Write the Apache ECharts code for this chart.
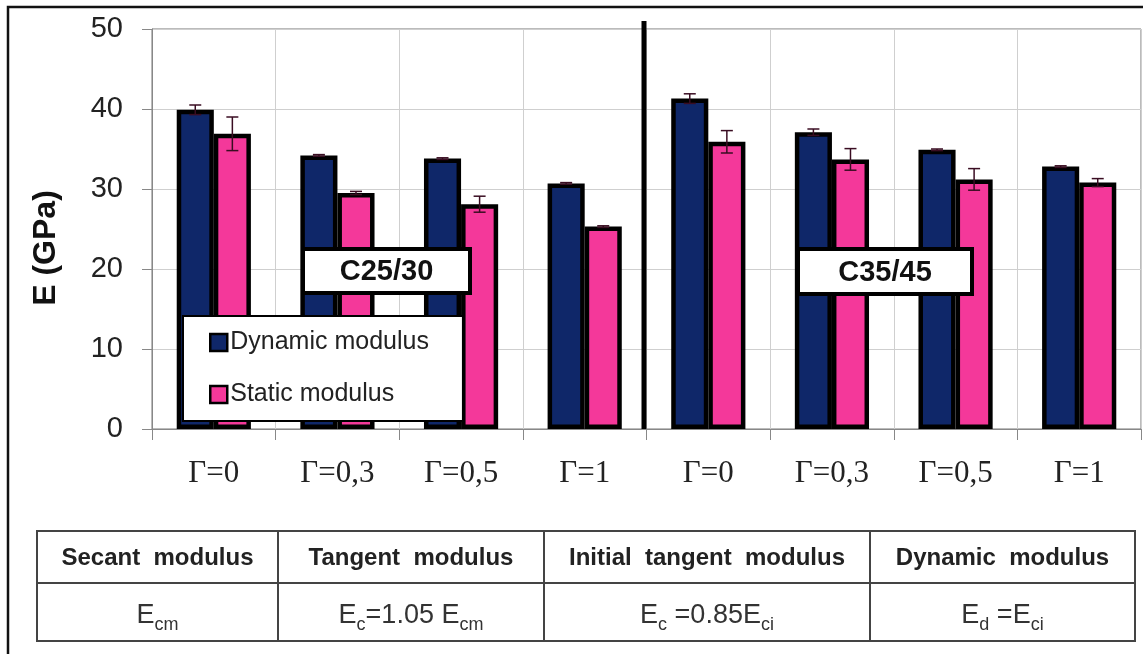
<!DOCTYPE html>
<html>
<head>
<meta charset="utf-8">
<script src="https://cdn.jsdelivr.net/npm/echarts@6/dist/echarts.min.js"></script>
<style>html,body{margin:0;padding:0;background:#fff}#c{width:1143px;height:654px}</style>
</head>
<body>
<div id="c"></div>
<script>
const categories = ['Γ=0','Γ=0,3','Γ=0,5','Γ=1','Γ=0','Γ=0,3','Γ=0,5','Γ=1'];
const dynamicModulus = [39.9, 34.2, 33.8, 30.7, 41.3, 37.1, 34.9, 32.8];
const dynamicError   = [0.6, 0.1, 0.1, 0.1, 0.6, 0.4, 0.1, 0.1];
const staticModulus  = [36.9, 29.5, 28.1, 25.3, 35.9, 33.7, 31.2, 30.8];
const staticError    = [2.1, 0.2, 1.0, 0.1, 1.4, 1.35, 1.35, 0.5];
const yTicks = [0, 10, 20, 30, 40, 50];
const groupLabels = ['C25/30', 'C35/45'];
const tableHeaders = ['Secant  modulus', 'Tangent  modulus', 'Initial  tangent  modulus', 'Dynamic  modulus'];
const tableFormulas = [
  '{n|E}{s|cm}',
  '{n|E}{s|c}{n|=1.05 E}{s|cm}',
  '{n|E}{s|c}{n| =0.85E}{s|ci}',
  '{n|E}{s|d}{n| =E}{s|ci}'
];

const NAVY = '#0f2769';
const PINK = '#f4389a';
const GAP = 0.4;
const SANS = 'Arial, "Liberation Sans", sans-serif';

const chart = echarts.init(document.getElementById('c'), null, {renderer: 'canvas'});

function errData(vals, errs, side) {
  return vals.map((v, i) => [i, v, errs[i], side]);
}

function renderErr(params, api) {
  const i = api.value(0), v = api.value(1), e = api.value(2), side = api.value(3);
  const band = api.size([1, 0])[0];
  const barW = band * (1 - GAP) / 2;
  const c = api.coord([i, v]);
  const x = c[0] + side * barW / 2;
  const top = api.coord([i, v + e])[1];
  const bot = api.coord([i, v - e])[1];
  const half = 6;
  const st = {stroke: '#3a0d22', lineWidth: 1.5};
  return {type: 'group', children: [
    {type: 'line', shape: {x1: x, y1: top, x2: x, y2: bot}, style: st},
    {type: 'line', shape: {x1: x - half, y1: top, x2: x + half, y2: top}, style: st},
    {type: 'line', shape: {x1: x - half, y1: bot, x2: x + half, y2: bot}, style: st}
  ]};
}

// table geometry
const tX = [37, 278, 544, 870, 1135];
const tY = [531, 583, 641];
const tableGraphics = [];
tableGraphics.push({type: 'rect', shape: {x: tX[0], y: tY[0], width: tX[4] - tX[0], height: tY[2] - tY[0]},
  style: {fill: '#fff', stroke: '#444', lineWidth: 2}, silent: true});
tableGraphics.push({type: 'line', shape: {x1: tX[0], y1: tY[1], x2: tX[4], y2: tY[1]}, style: {stroke: '#444', lineWidth: 2}, silent: true});
for (let k = 1; k < 4; k++) {
  tableGraphics.push({type: 'line', shape: {x1: tX[k], y1: tY[0], x2: tX[k], y2: tY[2]}, style: {stroke: '#444', lineWidth: 2}, silent: true});
}
tableHeaders.forEach((h, k) => {
  tableGraphics.push({type: 'text', silent: true, style: {
    text: h, x: (tX[k] + tX[k + 1]) / 2, y: (tY[0] + tY[1]) / 2 + 1, align: 'center', verticalAlign: 'middle',
    font: 'bold 24px ' + SANS, fill: '#222'}});
});
tableFormulas.forEach((f, k) => {
  tableGraphics.push({type: 'text', silent: true, style: {
    text: f, x: (tX[k] + tX[k + 1]) / 2, y: (tY[1] + tY[2]) / 2 + 2, align: 'center', verticalAlign: 'middle',
    fill: '#333',
    rich: {
      n: {font: '27px ' + SANS, fontSize: 27, fontFamily: SANS, fill: '#333', lineHeight: 30, verticalAlign: 'bottom'},
      s: {font: '18px ' + SANS, fontSize: 18, fontFamily: SANS, fill: '#333', lineHeight: 20, verticalAlign: 'bottom', padding: [0, 0, -5, 0]}
    }}});
});

const boxes = [
  {x: 303, y: 249, w: 167, h: 44, label: groupLabels[0]},
  {x: 798, y: 249, w: 174, h: 45, label: groupLabels[1]}
];
const boxGraphics = [];
boxes.forEach(b => {
  boxGraphics.push({type: 'rect', z: 100, silent: true, shape: {x: b.x, y: b.y, width: b.w, height: b.h},
    style: {fill: '#fff', stroke: '#000', lineWidth: 4}});
  boxGraphics.push({type: 'text', z: 101, silent: true, style: {text: b.label, x: b.x + b.w / 2, y: b.y + b.h / 2 + 1,
    align: 'center', verticalAlign: 'middle', font: 'bold 29px ' + SANS, fill: '#111'}});
});

const option = {
  animation: false,
  backgroundColor: '#fff',
  grid: {left: 152, right: 2, top: 29, bottom: 225, show: true, borderColor: '#777', borderWidth: 1, backgroundColor: 'transparent'},
  legend: {
    data: ['Dynamic modulus', 'Static modulus'],
    orient: 'vertical', left: 183, top: 316,
    padding: [14, 34, 14, 26],
    itemWidth: 17, itemHeight: 17, itemGap: 27,
    icon: 'rect',
    backgroundColor: '#fff', borderColor: '#000', borderWidth: 2,
    itemStyle: {borderColor: '#000', borderWidth: 2.5},
    textStyle: {fontSize: 25, fontFamily: SANS, color: '#222', padding: [0, 0, 0, -2]},
    z: 50
  },
  xAxis: {
    type: 'category', data: categories,
    axisLine: {show: true, lineStyle: {color: '#888', width: 1}},
    axisTick: {show: true, length: 11, lineStyle: {color: '#888'}},
    splitLine: {show: true, lineStyle: {color: '#cfcfcf', width: 1}},
    axisLabel: {fontSize: 31, fontFamily: '"Times New Roman", "Liberation Serif", serif', color: '#222', margin: 29}
  },
  yAxis: {
    type: 'value', min: yTicks[0], max: yTicks[yTicks.length - 1], interval: yTicks[1] - yTicks[0],
    name: 'E (GPa)', nameLocation: 'middle', nameGap: 90, nameRotate: 90,
    nameTextStyle: {fontSize: 32, fontWeight: 'bold', fontFamily: SANS, color: '#111', padding: [0, 38, 0, 0]},
    axisLine: {show: true, lineStyle: {color: '#888'}},
    axisTick: {show: true, length: 10, lineStyle: {color: '#888'}},
    splitLine: {show: true, lineStyle: {color: '#cfcfcf'}},
    axisLabel: {fontSize: 29, fontFamily: SANS, color: '#222', margin: 29}
  },
  series: [
    {name: 'Dynamic modulus', type: 'bar', data: dynamicModulus, barGap: '0%', barCategoryGap: '40%',
      itemStyle: {color: NAVY, borderColor: '#000', borderWidth: 4.5}},
    {name: 'Static modulus', type: 'bar', data: staticModulus, barGap: '0%', barCategoryGap: '40%',
      itemStyle: {color: PINK, borderColor: '#000', borderWidth: 4.5}},
    {name: 'errD', type: 'custom', data: errData(dynamicModulus, dynamicError, -1), renderItem: renderErr,
      encode: {x: 0, y: 1}, z: 5, silent: true},
    {name: 'errS', type: 'custom', data: errData(staticModulus, staticError, 1), renderItem: renderErr,
      encode: {x: 0, y: 1}, z: 5, silent: true}
  ],
  graphic: [
    {type: 'rect', silent: true, z: 0, shape: {x: 8, y: 7, width: 1300, height: 800}, style: {fill: 'none', stroke: '#111', lineWidth: 2.5}},
    {type: 'line', silent: true, z: 60, shape: {x1: 644, y1: 21, x2: 644, y2: 429}, style: {stroke: '#000', lineWidth: 5}}
  ].concat(boxGraphics).concat(tableGraphics)
};
chart.setOption(option);
</script>
</body>
</html>
